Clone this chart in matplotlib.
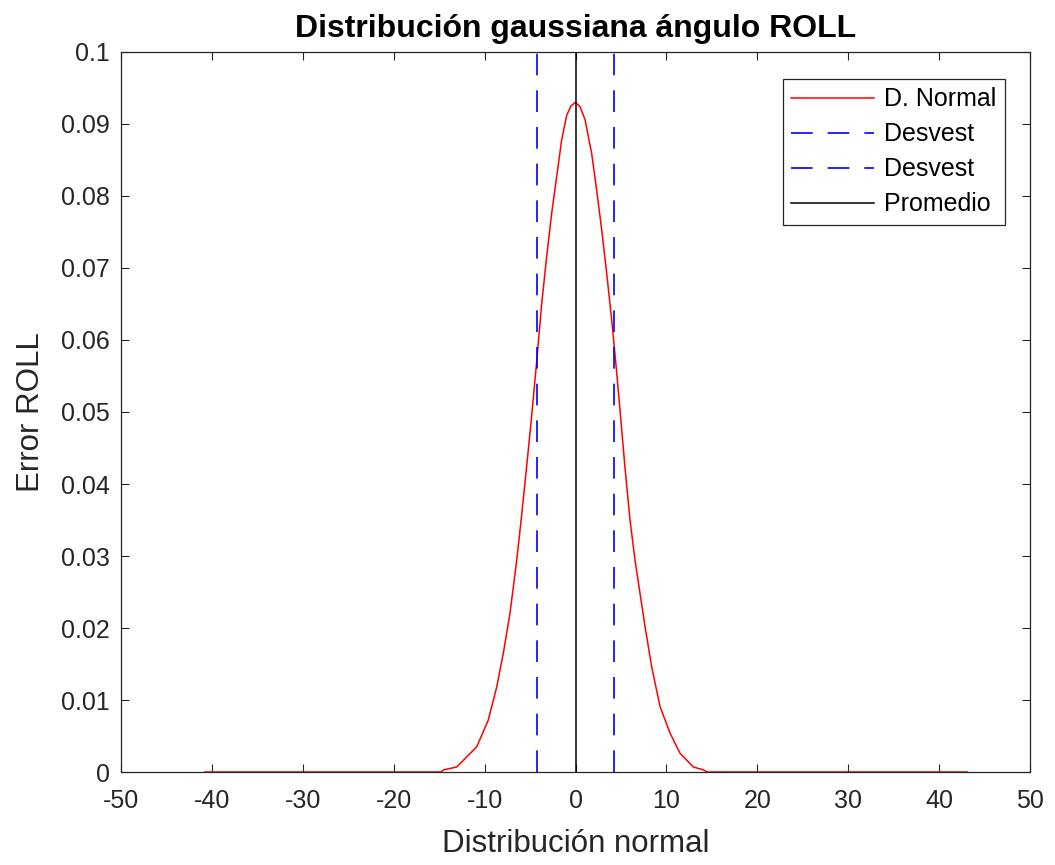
import numpy as np
import matplotlib.pyplot as plt

plt.rcParams['font.family'] = ['Liberation Sans', 'DejaVu Sans']
plt.rcParams['axes.unicode_minus'] = False

# puntos (x, densidad)
x_normal = [-40.8, -30.0, -20.0, -14.8, -14.5, -13.07, -10.87, -9.6, -8.67, -7.94, -7.2,
            -6.47, -5.92, -5.37, -4.82, -4.27, -3.72, -3.17, -2.62, -2.07, -1.52,
            -0.97, -0.5, 0.0, 0.5, 1.05, 1.78, 2.33, 2.88, 3.43, 3.98, 4.53, 4.97,
            5.45, 6.0, 6.55, 7.1, 7.65, 8.38, 9.3, 10.4, 11.5, 12.96,
            14.06, 14.5, 20.0, 30.0, 43.1]
y_normal = [0.0, 0.0, 0.0, 0.0, 0.0003, 0.0007, 0.0035, 0.0072, 0.0118, 0.0165, 0.0221,
            0.0294, 0.0357, 0.0425, 0.0495, 0.0570, 0.0650, 0.0716, 0.0776, 0.0827, 0.0878,
            0.0912, 0.0925, 0.0930, 0.0924, 0.0906, 0.0859, 0.0808, 0.0753, 0.0693, 0.0628, 0.0555, 0.0492,
            0.0422, 0.0350, 0.0294, 0.0248, 0.0202, 0.0146, 0.0091, 0.0054, 0.0026, 0.0007,
            0.0003, 0.0, 0.0, 0.0, 0.0]

desvest_lo = -4.29
desvest_hi = 4.24
promedio = 0.05

fig = plt.figure(figsize=(10.55, 8.65), dpi=100)
ax = fig.add_axes([0.1147, 0.1075, 0.8616, 0.8324])

gris = '#262626'
ax.plot(x_normal, y_normal, color='r', lw=1.1, label='D. Normal')
ax.axvline(desvest_lo, color='b', lw=1.2, ls=(0, (13, 9)), label='Desvest')
ax.axvline(desvest_hi, color='b', lw=1.2, ls=(0, (13, 9)), label='Desvest')
ax.axvline(promedio, color='k', lw=1.1, label='Promedio')

ax.set_xlim(-50, 50)
ax.set_ylim(0, 0.1)
ax.set_xticks(np.arange(-50, 51, 10))
ax.set_yticks(np.arange(0, 0.101, 0.01))
ax.set_yticklabels(['0', '0.01', '0.02', '0.03', '0.04', '0.05', '0.06',
                    '0.07', '0.08', '0.09', '0.1'])
ax.tick_params(direction='in', top=True, right=True, length=6, width=0.8,
               colors=gris, labelsize=18)
ax.tick_params(axis='x', pad=12)
ax.tick_params(axis='y', pad=8)
for s in ax.spines.values():
    s.set_color(gris)
    s.set_linewidth(0.9)

ax.set_title('Distribución gaussiana ángulo ROLL', fontsize=23, fontweight='bold', pad=11)
ax.set_xlabel('Distribución normal', fontsize=22.5, color=gris, labelpad=12)
ax.set_ylabel('Error ROLL', fontsize=22.5, color=gris, labelpad=11)

leg = ax.legend(loc='upper right', bbox_to_anchor=(0.9725, 0.963), fontsize=18,
                handlelength=3.3, handletextpad=0.4, borderpad=0.35,
                labelspacing=0.44, borderaxespad=0, fancybox=False, framealpha=1)
leg.get_frame().set_edgecolor(gris)
leg.get_frame().set_linewidth(0.9)

fig.savefig('out.png', dpi=100)
